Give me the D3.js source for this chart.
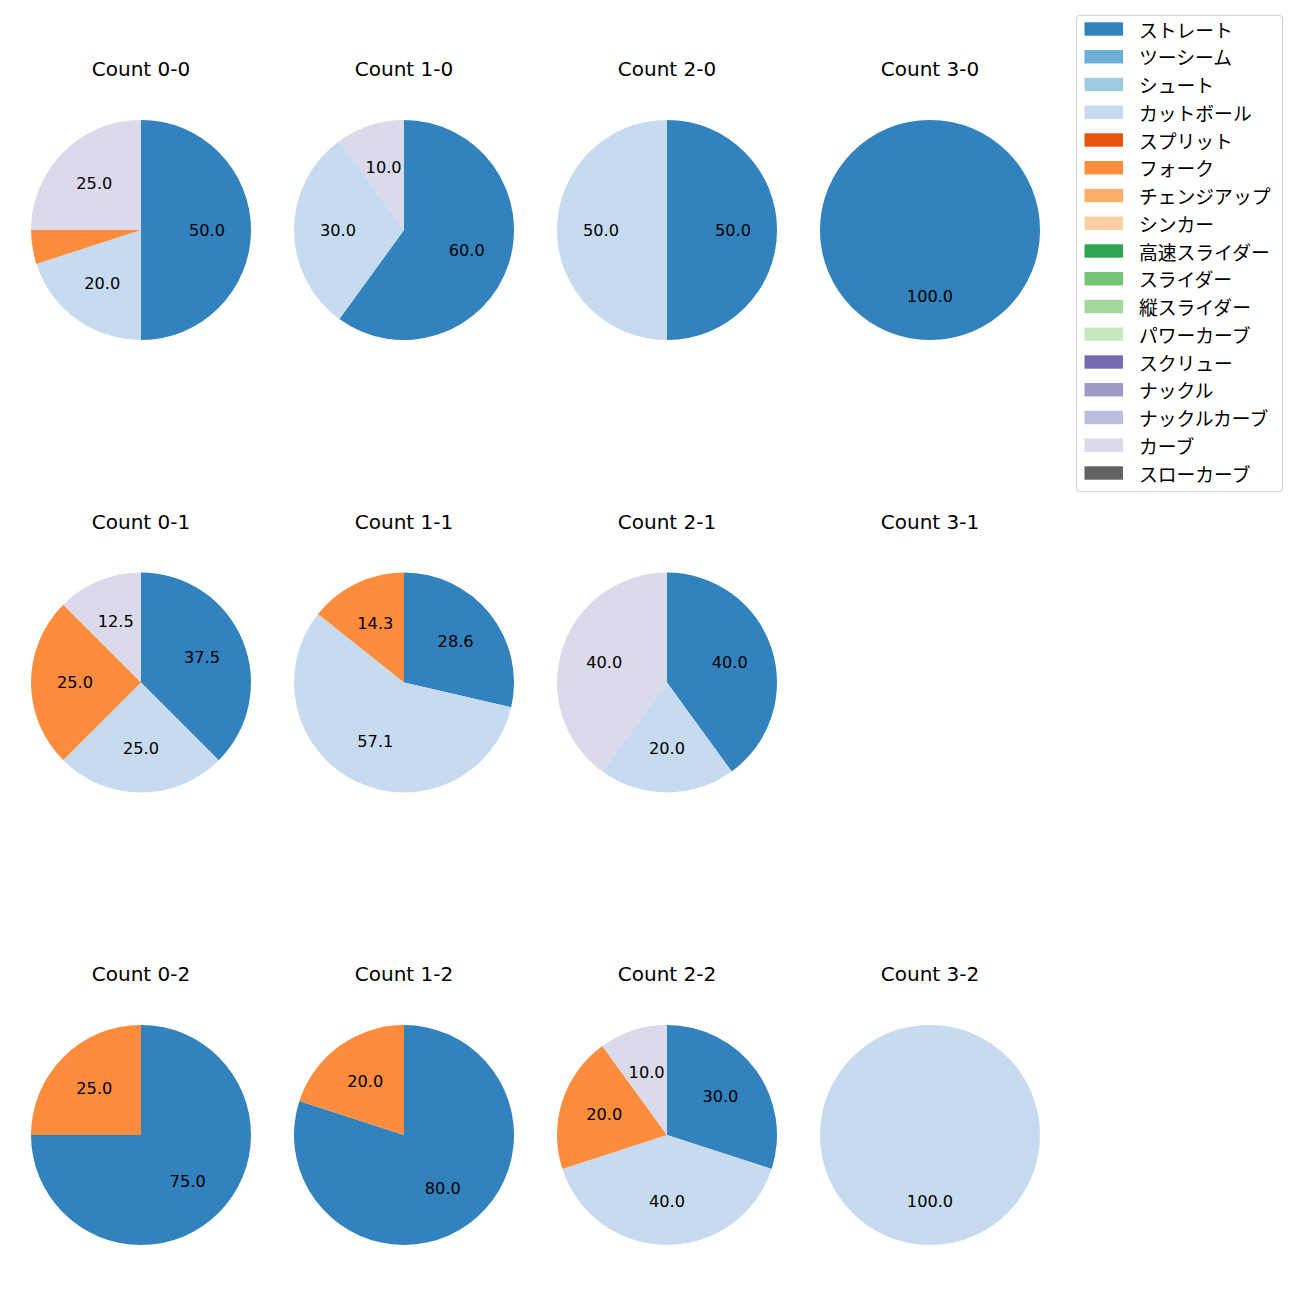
<!DOCTYPE html>
<html><head><meta charset="utf-8">
<script src="https://cdn.jsdelivr.net/npm/d3@7"></script>
<style>body{margin:0;background:#fff}</style>
</head><body>
<svg id="c" width="1300" height="1300"></svg>
<script>
const pitchTypes = ["ストレート","ツーシーム","シュート","カットボール","スプリット","フォーク","チェンジアップ","シンカー","高速スライダー","スライダー","縦スライダー","パワーカーブ","スクリュー","ナックル","ナックルカーブ","カーブ","スローカーブ"];
const pitchColors = ["#3182bd","#6baed6","#9ecae1","#c6dbef","#e6550d","#fd8d3c","#fdae6b","#fdd0a2","#31a354","#74c476","#a1d99b","#c7e9c0","#756bb1","#9e9ac8","#bcbddc","#dadaeb","#636363"];
const countTitles = ["Count 0-0","Count 1-0","Count 2-0","Count 3-0","Count 0-1","Count 1-1","Count 2-1","Count 3-1","Count 0-2","Count 1-2","Count 2-2","Count 3-2"];
// shares per pitch type for each count: only non-zero listed
const share00 = {"ストレート":50,"カットボール":20,"フォーク":5,"カーブ":25};
const share10 = {"ストレート":60,"カットボール":30,"カーブ":10};
const share20 = {"ストレート":50,"カットボール":50};
const share30 = {"ストレート":100};
const share01 = {"ストレート":37.5,"カットボール":25,"フォーク":25,"カーブ":12.5};
const share11 = {"ストレート":28.6,"カットボール":57.1,"フォーク":14.3};
const share21 = {"ストレート":40,"カットボール":20,"カーブ":40};
const share31 = {};
const share02 = {"ストレート":75,"フォーク":25};
const share12 = {"ストレート":80,"フォーク":20};
const share22 = {"ストレート":30,"カットボール":40,"フォーク":20,"カーブ":10};
const share32 = {"カットボール":100};
const shares = [share00,share10,share20,share30,share01,share11,share21,share31,share02,share12,share22,share32];

const svg = d3.select("#c");
const latinFont = "'DejaVu Sans', 'Noto Sans CJK JP', sans-serif";
const jpFont = "'Noto Sans CJK JP', sans-serif";
const color = d3.scaleOrdinal().domain(pitchTypes).range(pitchColors);
const colX = d3.scalePoint().domain([0,1,2,3]).range([141,930]);
const rowY = d3.scalePoint().domain([0,1,2]).range([230,1135]);
const R = 110;
const pie = d3.pie().sort(null).value(d=>d.v).startAngle(0).endAngle(2*Math.PI);
const arc = d3.arc().innerRadius(0).outerRadius(R);
const labelArc = d3.arc().innerRadius(R*0.6).outerRadius(R*0.6);

shares.forEach((s,i)=>{
  const cx = colX(i%4), cy = rowY(Math.floor(i/4));
  const g = svg.append("g").attr("transform",`translate(${cx},${cy})`);
  g.append("text").attr("x",0).attr("y",-161).attr("text-anchor","middle")
    .attr("dominant-baseline","central").attr("font-family",latinFont).attr("font-size",20)
    .attr("fill","#000").text(countTitles[i]);
  const data = pitchTypes.filter(p=>s[p]>0).map(p=>({k:p,v:s[p]}));
  if(!data.length) return;
  const arcs = pie(data);
  g.selectAll("path").data(arcs).enter().append("path")
    .attr("d",arc).attr("fill",d=>color(d.data.k));
  g.selectAll("text.l").data(arcs.filter(d=>d.data.v>=10)).enter().append("text")
    .attr("class","l")
    .attr("transform",d=>`translate(${labelArc.centroid(d)})`)
    .attr("text-anchor","middle").attr("dominant-baseline","central")
    .attr("font-family",latinFont).attr("font-size",16.2).attr("fill","#000")
    .text(d=>d.data.v.toFixed(1));
});

// legend
const lg = svg.append("g");
lg.append("rect").attr("x",1076.5).attr("y",15.5).attr("width",206).attr("height",476)
  .attr("rx",3).attr("fill","#fff").attr("stroke","#d0d0d0").attr("stroke-width",1);
const ly = d3.scaleLinear().domain([0,16]).range([29,473]);
pitchTypes.forEach((p,i)=>{
  lg.append("rect").attr("x",1084.5).attr("y",ly(i)-6.7).attr("width",38.5).attr("height",13.4).attr("fill",color(p));
  lg.append("text").attr("x",1139).attr("y",ly(i)).attr("dominant-baseline","central")
    .attr("font-family",jpFont).attr("font-size",18.8).attr("fill","#000").text(p);
});
</script>
</body></html>
